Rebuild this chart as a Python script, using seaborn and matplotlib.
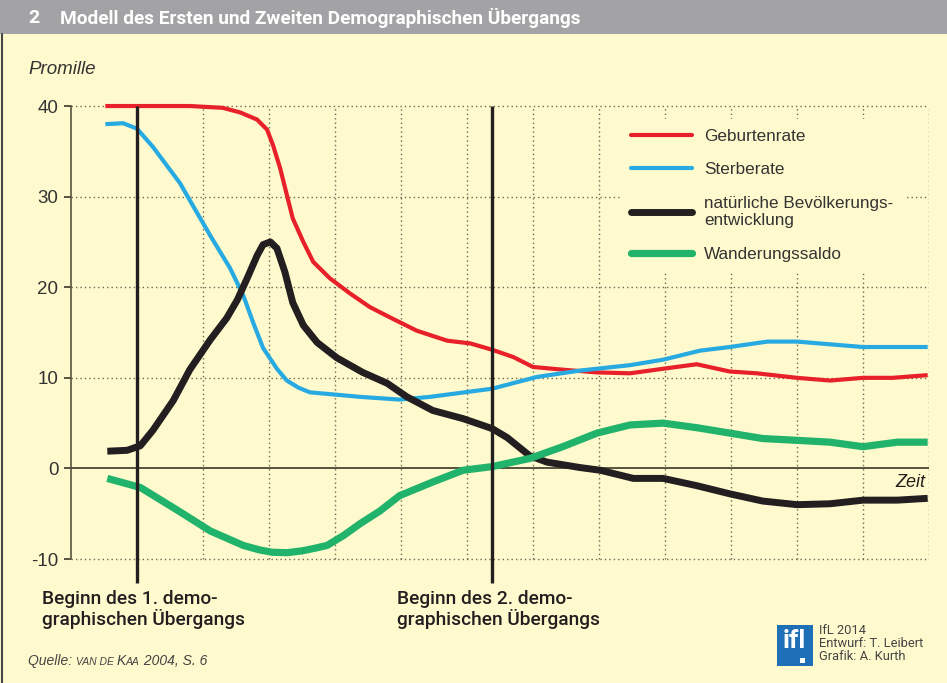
import matplotlib
matplotlib.use("Agg")
import matplotlib.pyplot as plt
import seaborn as sns
import pandas as pd
from matplotlib.patches import Rectangle
from matplotlib.lines import Line2D

# ---------------- data (x in time units, gridlines at integers) ----------------
birth_x = [0.52, 1.80, 2.30, 2.56, 2.82, 2.97, 3.06, 3.17, 3.27, 3.36, 3.52, 3.67, 3.92, 4.23, 4.53,
           4.88, 5.24, 5.70, 6.05, 6.38, 6.70, 7.00, 7.45, 7.97, 8.47, 8.97, 9.48, 9.98, 10.39,
           11.00, 11.50, 12.00, 12.45, 12.98]
birth_y = [40.0, 40.0, 39.8, 39.3, 38.5, 37.4, 35.7, 33.1, 30.2, 27.6, 25.0, 22.8, 21.0, 19.3, 17.8,
           16.5, 15.2, 14.1, 13.8, 13.1, 12.3, 11.2, 10.9, 10.6, 10.5, 11.0, 11.5, 10.7, 10.5,
           10.0, 9.7, 10.0, 10.0, 10.3]

death_x = [0.52, 0.79, 1.00, 1.24, 1.65, 1.80, 2.11, 2.41, 2.61, 2.76, 2.91, 3.12, 3.27, 3.45, 3.62,
           4.38, 4.98, 5.44, 6.38, 7.06, 7.71, 8.47, 8.97, 9.53, 9.98, 10.55, 11.00, 11.50, 12.00, 12.98]
death_y = [38.0, 38.1, 37.5, 35.5, 31.5, 29.6, 25.7, 22.1, 19.1, 16.1, 13.3, 11.0, 9.7, 8.9, 8.4,
           7.9, 7.6, 7.9, 8.8, 10.1, 10.8, 11.4, 12.0, 13.0, 13.4, 14.0, 14.0, 13.7, 13.4, 13.4]

natural_x = [0.55, 0.85, 1.05, 1.24, 1.55, 1.80, 2.11, 2.36, 2.52, 2.67, 2.82, 2.91, 3.02, 3.12,
             3.24, 3.36, 3.52, 3.73, 4.03, 4.42, 4.79, 5.09, 5.48, 5.94, 6.38, 6.61, 6.95, 7.21,
             7.71, 8.02, 8.52, 8.97, 9.48, 9.98, 10.48, 11.00, 11.50, 12.00, 12.52, 12.98]
natural_y = [1.9, 2.0, 2.5, 4.2, 7.5, 10.9, 14.2, 16.6, 18.6, 21.0, 23.5, 24.7, 25.0, 24.3,
             21.7, 18.3, 15.8, 13.9, 12.2, 10.6, 9.4, 7.9, 6.4, 5.5, 4.4, 3.4, 1.4, 0.7,
             0.1, -0.2, -1.1, -1.1, -1.9, -2.8, -3.6, -4.0, -3.9, -3.5, -3.5, -3.3]

migration_x = [0.55, 1.05, 1.61, 2.11, 2.61, 2.86, 3.05, 3.27, 3.50, 3.70, 3.88, 4.13, 4.38, 4.68,
               4.98, 5.48, 5.94, 6.38, 6.95, 7.45, 7.97, 8.47, 8.97, 9.48, 9.98, 10.48, 11.00,
               11.50, 12.00, 12.52, 12.98]
migration_y = [-1.1, -2.1, -4.6, -6.9, -8.5, -9.0, -9.25, -9.3, -9.1, -8.8, -8.5, -7.4, -6.1, -4.7,
               -3.0, -1.5, -0.2, 0.2, 1.1, 2.4, 3.9, 4.8, 5.0, 4.5, 3.9, 3.3, 3.1,
               2.9, 2.4, 2.9, 2.9]

series_labels = ["Geburtenrate", "Sterberate", "natürliche Bevölkerungs-\nentwicklung", "Wanderungssaldo"]
series_colors = ["#e8202a", "#27aae1", "#231f20", "#21b36b"]
series_widths = [3.0, 3.0, 5.0, 5.2]

transition_starts = [1.0, 6.38]
transition_labels = ["Beginn des 1. demo-\ngraphischen Übergangs", "Beginn des 2. demo-\ngraphischen Übergangs"]
y_ticks = [-10, 0, 10, 20, 30, 40]

# ---------------- styling ----------------
BG = "#fffacd"
sns.set_theme(style="white")
plt.rcParams["font.family"] = ["Liberation Sans", "DejaVu Sans"]

W, H = 947, 683
fig = plt.figure(figsize=(W / 100, H / 100), dpi=100, facecolor=BG)
ax = fig.add_axes([71 / W, 0.1417, 858 / W, 0.7296])
ax.set_facecolor(BG)
ax.set_xlim(0, 13)
ax.set_ylim(-13, 42)

# grid
grid_kw = dict(color="#6d6a55", lw=1.0, linestyle=(0, (1, 2.2)), zorder=1)
ax.vlines(range(1, 14), -10, 40, **grid_kw)
ax.hlines([t for t in y_ticks if t != 0], 0, 13, **grid_kw)
ax.hlines(0, 0, 13, color="#55533f", lw=1.4, zorder=1)

# series
frames = [
    (birth_x, birth_y),
    (death_x, death_y),
    (natural_x, natural_y),
    (migration_x, migration_y),
]
for i in [3, 2, 1, 0]:
    xs, ys = frames[i]
    df = pd.DataFrame({"Zeit": xs, "Promille": ys})
    sns.lineplot(data=df, x="Zeit", y="Promille", sort=False, ax=ax, color=series_colors[i],
                 lw=series_widths[i], zorder=3 + i, solid_capstyle="butt", solid_joinstyle="round")

# transition markers
ax.vlines(transition_starts, -12.6, 40, color="#231f20", lw=2.4, zorder=8)

# axes
for s in ["top", "right", "bottom"]:
    ax.spines[s].set_visible(False)
ax.spines["left"].set_bounds(-10, 40)
ax.spines["left"].set_color("#55533f")
ax.spines["left"].set_linewidth(1.2)
ax.set_yticks(y_ticks)
ax.set_yticklabels([str(t) for t in y_ticks])
ax.set_xticks([])
ax.tick_params(axis="y", direction="out", length=5, width=1.4, color="#55533f",
               labelsize=13.5, labelcolor="#333333", pad=4, left=True)
ax.set_xlabel("")
ax.set_ylabel("")
ax.text(12.94, -1.6, "Zeit", ha="right", va="center", style="italic", fontsize=13, color="#231f20")

# legend
handles = [Line2D([], [], color=c, lw=w) for c, w in zip(series_colors, series_widths)]
leg = fig.legend(handles, series_labels, loc="upper left", bbox_to_anchor=(612 / W, 1 - 110 / H),
                 frameon=True, facecolor=BG, edgecolor=BG, framealpha=1, fontsize=12.3,
                 handlelength=3.6, handletextpad=0.7, labelspacing=1.08, borderpad=0.6)
for t in leg.get_texts():
    t.set_color("#333333")
leg.set_zorder(20)

# title bar
fig.patches.append(Rectangle((0, 1 - 34 / H), 1, 34 / H, transform=fig.transFigure,
                             facecolor="#a3a3a5", edgecolor="none", zorder=0))
fig.add_artist(Line2D([1.5 / W, 1.5 / W], [0, 1 - 34 / H], transform=fig.transFigure,
                      color="#444444", lw=1.5))
narrow = ["Roboto", "DejaVu Sans"]
fig.text(28 / W, 1 - 18 / H, "2", color="white", fontsize=14, fontweight="bold",
         family=narrow, va="center", ha="left")
fig.text(60 / W, 1 - 18 / H, "Modell des Ersten und Zweiten Demographischen Übergangs",
         color="white", fontsize=13.7, fontweight="bold", family=narrow, va="center", ha="left")

fig.text(28 / W, 1 - 70 / H, "Promille", style="italic", fontsize=13.5, color="#333333",
         va="center", ha="left")

# transition labels
for px, lab in zip([42, 397], transition_labels):
    fig.text(px / W, 1 - 590 / H, lab, fontsize=13.8, color="#231f20", family=narrow,
             fontweight="medium", va="top", ha="left", linespacing=1.05)

# source (small caps imitation, chained by measured extents)
renderer = fig.canvas.get_renderer()
xpos = 28 / W
pieces = [("Quelle: ", 10), ("VAN DE ", 7.5), ("K", 10), ("AA", 7.5), (" 2004, S. 6", 10)]
for txt, fs in pieces:
    t = fig.text(xpos, 1 - 665 / H, txt, style="italic", fontsize=fs, color="#444444",
                 va="baseline", ha="left")
    bb = t.get_window_extent(renderer)
    xpos = bb.x1 / W

# logo
fig.patches.append(Rectangle((777 / W, 1 - 666 / H), 36 / W, 41 / H, transform=fig.transFigure,
                             facecolor="#1f6fb6", edgecolor="none"))
fig.text(794 / W, 1 - 641 / H, "ifl", color="white", fontsize=19, fontweight="bold",
         family=narrow, va="center", ha="center")
fig.patches.append(Rectangle((800 / W, 1 - 663 / H), 5 / W, 5 / H, transform=fig.transFigure,
                             facecolor="white", edgecolor="none"))
fig.text(819 / W, 1 - 624 / H, "IfL 2014\nEntwurf: T. Leibert\nGrafik: A. Kurth", fontsize=9.3,
         color="#444444", family=narrow, va="top", ha="left", linespacing=1.0)

fig.savefig("out.png", dpi=100, facecolor=BG)
